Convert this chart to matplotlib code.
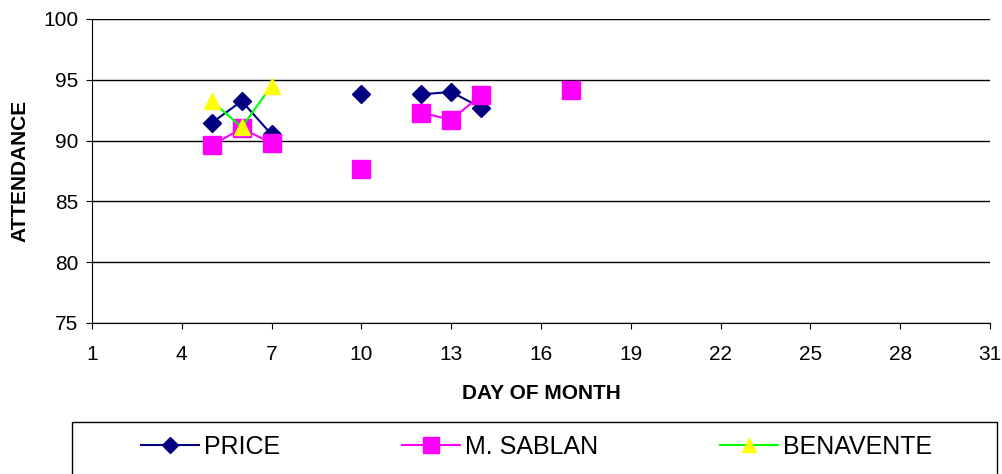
import numpy as np
import matplotlib.pyplot as plt
from matplotlib.patches import Rectangle

plt.rcParams['font.family'] = ['Liberation Sans', 'DejaVu Sans']

days = np.arange(1, 32)
nan = np.nan

# attendance by day of month (gaps where no data)
price = {5: 91.45, 6: 93.25, 7: 90.5, 10: 93.8, 12: 93.8, 13: 94.0, 14: 92.7}
sablan = {5: 89.6, 6: 91.0, 7: 89.8, 10: 87.7, 12: 92.3, 13: 91.7, 14: 93.75, 17: 94.15}
benavente = {5: 93.25, 6: 91.1, 7: 94.5}

def series(d):
    return np.array([d.get(x, nan) for x in days])

fig = plt.figure(figsize=(10.02, 4.74), dpi=100)
ax = fig.add_axes([0.0918, 0.3186, 0.8962, 0.6414])

ax.plot(days, series(price), color='#000080', marker='D', markersize=9, lw=1.5, label='PRICE')
ax.plot(days, series(sablan), color='#ff00ff', marker='s', markersize=13, lw=1.5, label='M. SABLAN')
ax.plot(days, series(benavente), color='#00ff00', marker='^', markersize=12, lw=1.5,
        markerfacecolor='#ffff00', markeredgecolor='#ffff00', label='BENAVENTE')

ax.set_xlim(1, 31)
ax.set_ylim(75, 100)
ax.set_xticks(range(1, 32, 3))
ax.set_yticks(range(75, 101, 5))
ax.yaxis.grid(True, color='black', lw=1)
ax.set_axisbelow(True)
ax.spines['top'].set_visible(False)
ax.spines['right'].set_visible(False)
ax.tick_params(labelsize=15, length=4, color='black')
ax.tick_params(axis='y', pad=6)
ax.tick_params(axis='x', pad=12)
ax.set_xlabel('DAY OF MONTH', fontsize=15, fontweight='bold', labelpad=14)
ax.set_ylabel('ATTENDANCE', fontsize=15, fontweight='bold', labelpad=10)

# legend box at the bottom
fig.patches.append(Rectangle((0.0719, -0.01), 0.923, 0.1197, transform=fig.transFigure,
                             facecolor='white', edgecolor='black', lw=1))
leg = fig.legend(loc='center', bbox_to_anchor=(0.5354, 0.057), ncol=3, fontsize=18, frameon=False,
                 handlelength=2.3, handletextpad=0.2, columnspacing=4.9, markerscale=0.85)

fig.savefig('out.png', dpi=100)
